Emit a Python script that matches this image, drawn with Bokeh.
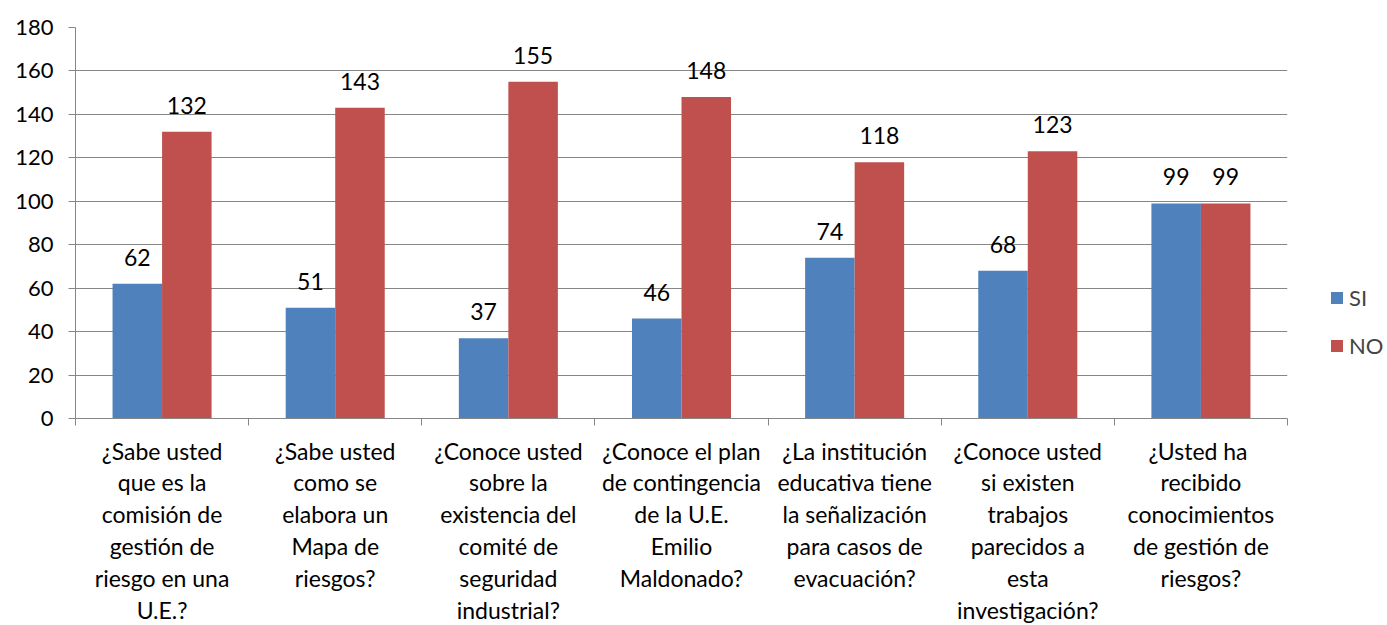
from bokeh.plotting import figure
from bokeh.models import ColumnDataSource, FixedTicker, Legend, LegendItem, Range1d
from bokeh.core.properties import value
from bokeh.embed import file_html
from bokeh.resources import INLINE

categories = [
    "¿Sabe usted\nque es la\ncomisión de\ngestión de\nriesgo en una\nU.E.?",
    "¿Sabe usted\ncomo se\nelabora un\nMapa de\nriesgos?",
    "¿Conoce usted\nsobre la\nexistencia del\ncomité de\nseguridad\nindustrial?",
    "¿Conoce el plan\nde contingencia\nde la U.E.\nEmilio\nMaldonado?",
    "¿La institución\neducativa tiene\nla señalización\npara casos de\nevacuación?",
    "¿Conoce usted\nsi existen\ntrabajos\nparecidos a\nesta\ninvestigación?",
    "¿Usted  ha\nrecibido\nconocimientos\nde gestión de\nriesgos?",
]
si_values = [62, 51, 37, 46, 74, 68, 99]
no_values = [132, 143, 155, 148, 118, 123, 99]
y_ticks = [0, 20, 40, 60, 80, 100, 120, 140, 160, 180]

FONT = "Lato"
BLUE = "#4F81BD"
RED = "#C0504D"
GRID = "#868686"
bw = 0.286

n = len(categories)
centers = [i + 0.5 for i in range(n)]
si_x = [c - bw / 2 for c in centers]
no_x = [c + bw / 2 for c in centers]

src_si = ColumnDataSource(dict(x=si_x, top=si_values, lab=[str(v) for v in si_values]))
src_no = ColumnDataSource(dict(x=no_x, top=no_values, lab=[str(v) for v in no_values]))

p = figure(frame_width=1212, frame_height=391, output_backend="svg", toolbar_location=None,
           x_range=Range1d(0, n), y_range=Range1d(0, 180),
           min_border_left=75, min_border_right=84, min_border_top=27, min_border_bottom=0)
p.outline_line_color = None
p.background_fill_color = "white"

r_si = p.vbar(x="x", top="top", width=bw, bottom=0, source=src_si, fill_color=BLUE, line_color=None)
r_no = p.vbar(x="x", top="top", width=bw, bottom=0, source=src_no, fill_color=RED, line_color=None)

for src in (src_si, src_no):
    p.text(x="x", y="top", text="lab", source=src, text_font=value(FONT), text_font_size="23px",
           text_align="center", text_baseline="bottom", y_offset=-18, text_color="black")

# y axis
p.yaxis.ticker = FixedTicker(ticks=y_ticks)
p.yaxis.axis_line_color = GRID
p.yaxis.major_tick_line_color = GRID
p.yaxis.major_tick_out = 7
p.yaxis.major_tick_in = 0
p.yaxis.minor_tick_line_color = None
p.yaxis.major_label_text_font = FONT
p.yaxis.major_label_text_font_size = "22px"
p.yaxis.major_label_text_color = "black"
p.yaxis.major_label_standoff = 15

# x axis
p.xaxis.ticker = FixedTicker(ticks=centers, minor_ticks=list(range(n + 1)))
p.xaxis.major_label_overrides = {c: lab for c, lab in zip(centers, categories)}
p.xaxis.axis_line_color = GRID
p.xaxis.major_tick_line_color = None
p.xaxis.major_tick_out = 7
p.xaxis.minor_tick_line_color = GRID
p.xaxis.minor_tick_out = 7
p.xaxis.minor_tick_in = 0
p.xaxis.major_label_text_font = FONT
p.xaxis.major_label_text_font_size = "23px"
p.xaxis.major_label_text_color = "black"
p.xaxis.major_label_text_line_height = 1.14
p.xaxis.major_label_standoff = 11

p.xgrid.grid_line_color = None
p.ygrid.grid_line_color = GRID
p.ygrid.grid_line_width = 1

legend = Legend(items=[LegendItem(label="SI", renderers=[r_si]), LegendItem(label="NO", renderers=[r_no])],
                location=(42, 59), orientation="vertical", padding=0, margin=0,
                glyph_width=15, glyph_height=15, label_height=20, spacing=21,
                label_standoff=5, label_text_font=FONT, label_text_font_size="22px",
                border_line_color=None, background_fill_alpha=0)
p.add_layout(legend, "right")

open("out.html", "w").write(file_html(p, INLINE))
